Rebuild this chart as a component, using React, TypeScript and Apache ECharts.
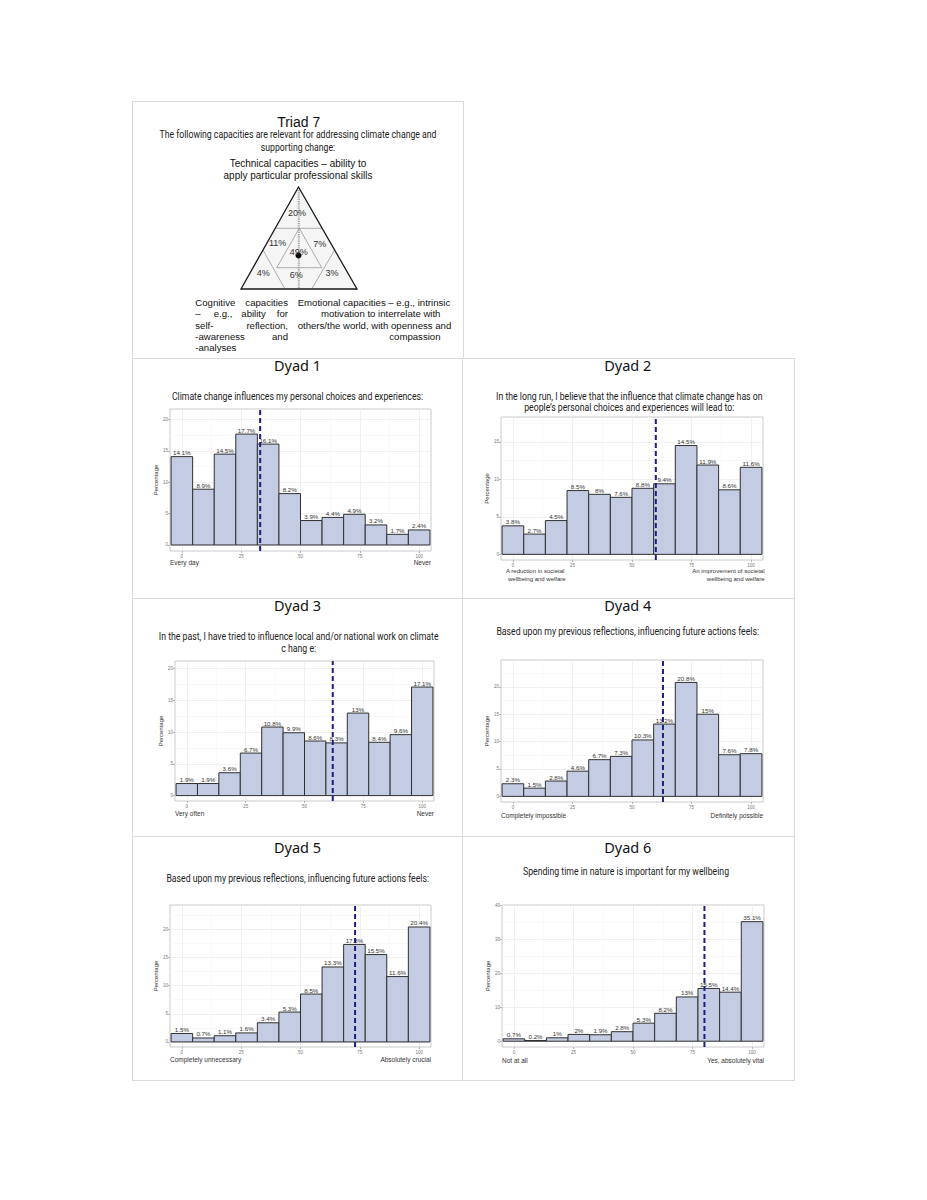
import React, { useEffect, useRef } from 'react';
import * as echarts from 'echarts';

// ---------------- DATA ----------------
const xTickValues = [0, 25, 50, 75, 100];
const xMinorValues = [12.5, 37.5, 62.5, 87.5];

const dyadTitles = ['Dyad 1', 'Dyad 2', 'Dyad 3', 'Dyad 4', 'Dyad 5', 'Dyad 6'];
const dyadSubtitles = [
  ['Climate change influences my personal choices and experiences:'],
  ['In the long run, I believe that the influence that climate change has on', 'people\u2019s personal choices and experiences will lead to:'],
  ['In the past, I have tried to influence local and/or national work on climate', 'c hang e:'],
  ['Based upon my previous reflections, influencing future actions feels:'],
  ['Based upon my previous reflections, influencing future actions feels:'],
  ['Spending time in nature is important for my wellbeing'],
];
const dyadLowLabels = [
  ['Every day'],
  ['A reduction in societal', 'wellbeing and welfare'],
  ['Very often'],
  ['Completely impossible'],
  ['Completely unnecessary'],
  ['Not at all'],
];
const dyadHighLabels = [
  ['Never'],
  ['An improvement of societal', 'wellbeing and welfare'],
  ['Never'],
  ['Definitely possible'],
  ['Absolutely crucial'],
  ['Yes, absolutely vital'],
];

const dyad1Values = [14.1, 8.9, 14.5, 17.7, 16.1, 8.2, 3.9, 4.4, 4.9, 3.2, 1.7, 2.4];
const dyad2Values = [3.8, 2.7, 4.5, 8.5, 8, 7.6, 8.8, 9.4, 14.5, 11.9, 8.6, 11.6];
const dyad3Values = [1.9, 1.9, 3.6, 6.7, 10.8, 9.9, 8.6, 8.3, 13, 8.4, 9.6, 17.1];
const dyad4Values = [2.3, 1.5, 2.8, 4.6, 6.7, 7.3, 10.3, 13.2, 20.8, 15, 7.6, 7.8];
const dyad5Values = [1.5, 0.7, 1.1, 1.6, 3.4, 5.3, 8.5, 13.3, 17.3, 15.5, 11.6, 20.4];
const dyad6Values = [0.7, 0.2, 1, 2, 1.9, 2.8, 5.3, 8.2, 13, 15.5, 14.4, 35.1];
const dyadValues = [dyad1Values, dyad2Values, dyad3Values, dyad4Values, dyad5Values, dyad6Values];

const dyadMeans = [33, 60, 62, 63, 73, 80];

const dyadYTicks = [
  [0, 5, 10, 15, 20],
  [0, 5, 10, 15],
  [0, 5, 10, 15, 20],
  [0, 5, 10, 15, 20],
  [0, 5, 10, 15, 20],
  [0, 10, 20, 30, 40],
];
const dyadYMinor = [
  [2.5, 7.5, 12.5, 17.5],
  [2.5, 7.5, 12.5, 17.5],
  [2.5, 7.5, 12.5, 17.5],
  [2.5, 7.5, 12.5, 17.5, 22.5],
  [2.5, 7.5, 12.5, 17.5, 22.5],
  [5, 15, 25, 35],
];
const dyadYRange = [
  [-0.96, 21.7],
  [-0.75, 18.3],
  [-0.85, 21.2],
  [-1.03, 24.9],
  [-0.9, 24.3],
  [-1.7, 40],
];

const triadTitle = 'Triad 7';
const triadQuestion = ['The following capacities are relevant for addressing climate change and', 'supporting change:'];
const triadTopLabel = ['Technical capacities \u2013 ability to', 'apply particular professional skills'];
const triadShareLabels = ['20%', '11%', '7%', '49%', '4%', '6%', '3%'];

// ---------------- LAYOUT / STYLE ----------------
const X_MIN = -5;
const X_MAX = 105;
const BIN = 100 / 11;

const panels = [
  { left: 170, top: 409, width: 261, height: 142, cx: 297.5, titleY: 365, subY: 395.7, subX: 297.5, endY: 562.7 },
  { left: 501, top: 417, width: 262, height: 143, cx: 627.7, titleY: 365, subY: 395.7, subX: 629.3, endY: 571.3 },
  { left: 175, top: 661, width: 259, height: 140, cx: 297.5, titleY: 604.7, subY: 636.3, subX: 298.7, endY: 813 },
  { left: 501, top: 660, width: 262, height: 142, cx: 627.7, titleY: 604.7, subY: 631.3, subX: 627.7, endY: 815.3 },
  { left: 170, top: 905, width: 261, height: 142, cx: 297.5, titleY: 846.7, subY: 877.7, subX: 297.7, endY: 1059.7 },
  { left: 502, top: 905, width: 262, height: 142, cx: 627.7, titleY: 846.7, subY: 871.3, subX: 626, endY: 1060 },
];

const FONT_NARROW = 'Roboto, sans-serif';
const NARROW_SCALE = 0.83;
const FONT_ARIAL = "'Liberation Sans', Arial, sans-serif";
const FONT_TITLE = "'Noto Sans', 'Open Sans', sans-serif";
const BAR_FILL = '#c4cce3';
const BAR_STROKE = '#303030';
const MEAN_COLOR = '#1d1d86';
const FRAME = '#dadada';

function txt(text: string, x: number, y: number, size: number, family: string, align = 'center', color = '#222', scaleX = 1) {
  return {
    type: 'text',
    x,
    y,
    scaleX,
    silent: true,
    style: { text, fontSize: size, fontFamily: family, fill: color, align, verticalAlign: 'middle' },
  };
}
function seg(x1: number, y1: number, x2: number, y2: number, stroke: string, lineWidth: number) {
  return { type: 'line', silent: true, shape: { x1, y1, x2, y2 }, style: { stroke, lineWidth } };
}

function buildOption() {
  const grid: any[] = [];
  const xAxis: any[] = [];
  const yAxis: any[] = [];
  const series: any[] = [];
  const graphic: any[] = [];

  panels.forEach((p, i) => {
    grid.push({
      left: p.left, top: p.top, width: p.width, height: p.height,
      show: true, borderColor: '#bdbdbd', borderWidth: 0.8, backgroundColor: 'transparent',
      containLabel: false, outerBoundsMode: 'none',
    });
    const [ymin, ymax] = dyadYRange[i];
    xAxis.push({
      gridIndex: i, type: 'value', min: X_MIN, max: X_MAX, position: 'bottom',
      axisLine: { show: false, onZero: false },
      axisTick: { show: true, length: 2, lineStyle: { color: '#8a8a8a', width: 0.6 }, customValues: xTickValues },
      axisLabel: { show: true, customValues: xTickValues, fontSize: 4.5, color: '#777', margin: 3, fontFamily: FONT_ARIAL },
      splitLine: { show: true, lineStyle: { color: '#e6e6e6', width: 0.6 } },
    });
    xAxis.push({
      gridIndex: i, type: 'value', min: X_MIN, max: X_MAX, position: 'top',
      axisLine: { show: false, onZero: false },
      axisTick: { show: false, customValues: xMinorValues },
      axisLabel: { show: false },
      splitLine: { show: true, lineStyle: { color: '#f3f3f3', width: 0.5 } },
    });
    yAxis.push({
      gridIndex: i, type: 'value', min: ymin, max: ymax, position: 'left',
      name: 'Percentage', nameLocation: 'middle', nameRotate: 90, nameGap: 9,
      nameTextStyle: { fontSize: 6, color: '#333', fontFamily: FONT_ARIAL },
      axisLine: { show: false, onZero: false },
      axisTick: { show: true, length: 2, lineStyle: { color: '#8a8a8a', width: 0.6 }, customValues: dyadYTicks[i] },
      axisLabel: { show: true, customValues: dyadYTicks[i], fontSize: 4.5, color: '#777', margin: 2, fontFamily: FONT_ARIAL },
      splitLine: { show: true, lineStyle: { color: '#e6e6e6', width: 0.6 } },
    });
    yAxis.push({
      gridIndex: i, type: 'value', min: ymin, max: ymax, position: 'right',
      axisLine: { show: false, onZero: false },
      axisTick: { show: false, customValues: dyadYMinor[i] },
      axisLabel: { show: false },
      splitLine: { show: true, lineStyle: { color: '#f3f3f3', width: 0.5 } },
    });

    series.push({
      type: 'custom',
      xAxisIndex: 2 * i,
      yAxisIndex: 2 * i,
      clip: false,
      silent: true,
      data: dyadValues[i].map((v, j) => [j * BIN, v]),
      encode: { x: 0, y: 1 },
      renderItem: (params: any, api: any) => {
        const x = api.value(0);
        const v = api.value(1);
        const p0 = api.coord([x - BIN / 2, 0]);
        const p1 = api.coord([x + BIN / 2, v]);
        return {
          type: 'group',
          children: [
            {
              type: 'rect',
              shape: { x: p0[0], y: p1[1], width: p1[0] - p0[0], height: p0[1] - p1[1] },
              style: { fill: BAR_FILL, stroke: BAR_STROKE, lineWidth: 1 },
            },
            {
              type: 'text',
              x: (p0[0] + p1[0]) / 2,
              y: p1[1] - 1,
              style: { text: `${v}%`, fontSize: 6.2, fontFamily: FONT_ARIAL, fill: '#333', align: 'center', verticalAlign: 'bottom' },
            },
          ],
        };
      },
      z: 3,
    });
    series.push({
      type: 'line',
      xAxisIndex: 2 * i,
      yAxisIndex: 2 * i,
      data: [[dyadMeans[i], ymin], [dyadMeans[i], ymax]],
      showSymbol: false,
      symbol: 'none',
      silent: true,
      lineStyle: { color: MEAN_COLOR, width: 2, type: [5, 3] },
      z: 5,
    });

    // titles and texts
    graphic.push(txt(dyadTitles[i], p.cx, p.titleY, 14.5, FONT_TITLE, 'center', '#111'));
    dyadSubtitles[i].forEach((line, k) => {
      graphic.push(txt(line, p.subX, p.subY + k * 11.6, 10.5, FONT_NARROW, 'center', '#222', NARROW_SCALE));
    });
    const endSize = i === 1 ? 6 : 6.5;
    dyadLowLabels[i].forEach((line, k) => {
      graphic.push(txt(line, p.left + (i === 1 ? 5 + k * 2 : 0), p.endY + k * 7.4, endSize, FONT_ARIAL, 'left', '#333'));
    });
    dyadHighLabels[i].forEach((line, k) => {
      graphic.push(txt(line, p.left + p.width + (i === 1 ? 1.5 : 0), p.endY + k * 7.4, endSize, FONT_ARIAL, 'right', '#333'));
    });
  });

  // frames
  graphic.push(seg(132, 101.5, 463, 101.5, FRAME, 1));
  graphic.push(seg(132.5, 101, 132.5, 1080, FRAME, 1));
  graphic.push(seg(463.5, 101, 463.5, 358, FRAME, 1));
  graphic.push(seg(462.5, 358, 462.5, 1080, FRAME, 1));
  graphic.push(seg(794.5, 358, 794.5, 1080, FRAME, 1));
  [358.5, 598.5, 836.5, 1080.5].forEach((y) => graphic.push(seg(132, y, 795, y, FRAME, 1)));

  // triad texts
  graphic.push(txt(triadTitle, 298.7, 121.7, 14, FONT_ARIAL, 'center', '#111'));
  triadQuestion.forEach((l, k) => graphic.push(txt(l, 298, 134.3 + k * 12.4, 10.5, FONT_NARROW, 'center', '#222', NARROW_SCALE)));
  triadTopLabel.forEach((l, k) => graphic.push(txt(l, 298, 163.3 + k * 11.7, 10, FONT_ARIAL, 'center', '#111')));

  const LF = 9.6;
  const row = (k: number) => 302.3 + k * 11.4;
  graphic.push(txt('Cognitive', 195.3, row(0), LF, FONT_ARIAL, 'left', '#111'));
  graphic.push(txt('capacities', 288, row(0), LF, FONT_ARIAL, 'right', '#111'));
  graphic.push(txt('\u2013', 195.3, row(1), LF, FONT_ARIAL, 'left', '#111'));
  graphic.push(txt('e.g.,', 213.7, row(1), LF, FONT_ARIAL, 'left', '#111'));
  graphic.push(txt('ability', 241.3, row(1), LF, FONT_ARIAL, 'left', '#111'));
  graphic.push(txt('for', 288, row(1), LF, FONT_ARIAL, 'right', '#111'));
  graphic.push(txt('self-', 195.3, row(2), LF, FONT_ARIAL, 'left', '#111'));
  graphic.push(txt('reflection,', 288, row(2), LF, FONT_ARIAL, 'right', '#111'));
  graphic.push(txt('-awareness', 195.3, row(3), LF, FONT_ARIAL, 'left', '#111'));
  graphic.push(txt('and', 288, row(3), LF, FONT_ARIAL, 'right', '#111'));
  graphic.push(txt('-analyses', 195.3, row(4), LF, FONT_ARIAL, 'left', '#111'));

  graphic.push(txt('Emotional capacities \u2013 e.g., intrinsic', 297.7, row(0), LF, FONT_ARIAL, 'left', '#111'));
  graphic.push(txt('motivation to interrelate with', 321, row(1), LF, FONT_ARIAL, 'left', '#111'));
  graphic.push(txt('others/the world, with openness and', 297.7, row(2), LF, FONT_ARIAL, 'left', '#111'));
  graphic.push(txt('compassion', 389.3, row(3), LF, FONT_ARIAL, 'left', '#111'));

  // triangle
  const A = [298.5, 187];
  const B = [241, 289];
  const C = [357, 289];
  graphic.push({ type: 'polygon', silent: true, shape: { points: [A, B, C] }, style: { fill: '#f5f5f5', stroke: 'none' } });
  graphic.push({ type: 'line', silent: true, shape: { x1: 298.8, y1: 190, x2: 298.8, y2: 288 }, style: { stroke: '#a8a8a8', lineWidth: 2.2, lineDash: [1.2, 1] } });
  const ix = (y: number, P: number[], Q: number[]) => P[0] + ((y - P[1]) / (Q[1] - P[1])) * (Q[0] - P[0]);
  const GRAY = '#8c8c8c';
  graphic.push(seg(ix(228.3, A, B), 228.3, ix(228.3, A, C), 228.3, GRAY, 0.7));
  graphic.push(seg(ix(250, A, B), 250, 285, 289, GRAY, 0.7));
  graphic.push(seg(ix(250, A, C), 250, 311.7, 289, GRAY, 0.7));
  graphic.push({
    type: 'polygon', silent: true,
    shape: { points: [[299.3, 228.3], [276.7, 267.7], [321.7, 267.7]] },
    style: { fill: 'none', stroke: GRAY, lineWidth: 0.7 },
  });
  graphic.push({ type: 'polygon', silent: true, shape: { points: [A, B, C] }, style: { fill: 'none', stroke: '#1a1a1a', lineWidth: 1.3 } });
  graphic.push({ type: 'circle', silent: true, shape: { cx: 298.5, cy: 255.5, r: 3 }, style: { fill: '#000' } });
  const sharePos = [
    [297, 213.3], [277.7, 242.7], [319.7, 244.3], [298.7, 252.3], [263.3, 273.3], [296.3, 274.7], [332, 273.3],
  ];
  triadShareLabels.forEach((s, k) => graphic.push(txt(s, sharePos[k][0], sharePos[k][1], 9, FONT_ARIAL, 'center', '#333')));

  return {
    animation: false,
    backgroundColor: '#ffffff',
    grid,
    xAxis,
    yAxis,
    series,
    graphic,
  };
}

export default function App() {
  const ref = useRef<HTMLDivElement>(null);
  useEffect(() => {
    if (!ref.current) return;
    const chart = echarts.init(ref.current, undefined, { renderer: 'svg', width: 927, height: 1200 });
    chart.setOption(buildOption() as any);
    return () => chart.dispose();
  }, []);
  return (
    <div
      ref={ref}
      style={{ position: 'absolute', left: 0, top: 0, width: 927, height: 1200, background: '#fff' }}
    />
  );
}
